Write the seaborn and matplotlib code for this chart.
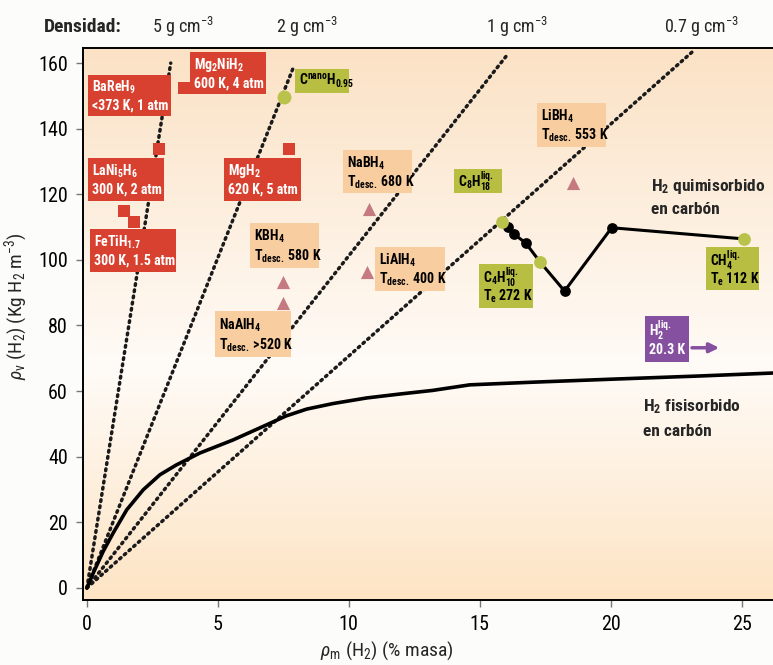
import numpy as np
import pandas as pd
import matplotlib
matplotlib.use('Agg')
import matplotlib.pyplot as plt
from matplotlib import font_manager
from matplotlib.patches import Rectangle
import seaborn as sns

# ---- datos ----
dens_labels = ['5', '2', '1', '0.7']
dens_end_x = [3.2, 7.9, 16.0, 23.2]
dens_end_y = [160, 159, 162, 164]

phys_x = [0, 0.24, 0.62, 1.0, 1.52, 2.15, 2.79, 3.42, 4.31, 5.58, 6.86, 7.6, 8.39,
          9.4, 10.68, 11.95, 13.2, 14.62, 17.0, 19.96, 23.4, 26.18]
phys_y = [0, 4.5, 11.1, 16.7, 23.8, 29.9, 34.5, 37.5, 41.1, 45.1, 49.7, 52.4, 54.5,
          56.2, 57.9, 59.1, 60.2, 61.9, 62.7, 63.6, 64.6, 65.5]

chem_x = [15.84, 16.07, 16.3, 16.75, 17.3, 18.24, 20.04, 25.08]
chem_y = [111.6, 110.0, 107.9, 105.2, 99.4, 90.5, 109.8, 106.4]
chem_kind = ['liq', 'c', 'c', 'c', 'liq', 'c', 'c', 'liq']

hyd_names = ['Mg2NiH2', 'BaReH9', 'LaNi5H6', 'FeTiH1.7', 'MgH2']
hyd_x = [3.7, 2.75, 1.41, 1.8, 7.7]
hyd_y = [152.4, 133.8, 114.9, 111.6, 133.8]

cplx_names = ['KBH4', 'NaAlH4', 'NaBH4', 'LiAlH4', 'LiBH4']
cplx_x = [7.47, 7.47, 10.76, 10.7, 18.55]
cplx_y = [93.3, 86.9, 115.5, 96.3, 123.5]

cnano_x = [7.52]
cnano_y = [149.7]

h2liq_y = 73.2
h2liq_x = [23.0, 24.25]

# ---- estilo ----
sns.set_theme(style='ticks')
names = {f.name for f in font_manager.fontManager.ttflist}
fam = None
for cand in ['Liberation Sans Narrow', 'Arial Narrow', 'Roboto Condensed', 'Open Sans Condensed']:
    if cand in names:
        fam = cand
        break
narrow = fam is not None
if fam is None:
    fam = 'Liberation Sans'
k = 1.0 if narrow else 0.86   # reduce tamanos si no hay fuente estrecha
plt.rcParams['font.family'] = [fam, 'DejaVu Sans']
plt.rcParams['mathtext.fontset'] = 'custom'
plt.rcParams['mathtext.rm'] = fam
plt.rcParams['mathtext.it'] = fam + ':italic'
plt.rcParams['mathtext.bf'] = fam + ':bold'

RED = '#d8412f'
PEACH = '#f8cd9f'
GREEN = '#b7be42'
GDOT = '#b9c24a'
PURPLE = '#8650a0'
TRI = '#c47a80'

fig = plt.figure(figsize=(7.73, 6.65), dpi=100, facecolor='#fcfcfa')
ax = fig.add_axes([83 / 773, 1 - 600 / 665, 690 / 773, 552 / 665])

# fondo degradado
stops = [0.0, 0.42, 1.0]
c_bot = (253, 228, 196)
c_mid = (255, 251, 247)
c_top = (251, 226, 197)
t = np.linspace(0, 1, 256)
grad = np.stack([np.interp(t, stops, [c_bot[i], c_mid[i], c_top[i]]) for i in range(3)], axis=-1) / 255
ax.imshow(grad[:, None, :], extent=[0, 1, 0, 1], transform=ax.transAxes,
          origin='lower', aspect='auto', zorder=0)

# lineas de densidad
for xe, ye in zip(dens_end_x, dens_end_y):
    ax.plot([0, xe], [0, ye], color='#1a1a1a', lw=2.5, linestyle=(0, (0.5, 1.3)),
            dash_capstyle='round', zorder=2)

# fisisorcion
sns.lineplot(x=phys_x, y=phys_y, ax=ax, color='black', lw=2.6, sort=False, zorder=3)

# quimisorcion
chem = pd.DataFrame({'x': chem_x, 'y': chem_y, 'kind': chem_kind})
sns.lineplot(data=chem, x='x', y='y', ax=ax, color='black', lw=2.2, sort=False, zorder=3)
sns.scatterplot(data=chem[chem.kind == 'c'], x='x', y='y', ax=ax, color='black',
                s=60, linewidth=0, zorder=4, legend=False)
sns.scatterplot(data=chem[chem.kind == 'liq'], x='x', y='y', ax=ax, color=GDOT,
                s=85, linewidth=0, zorder=4, legend=False)

sns.scatterplot(x=cnano_x, y=cnano_y, ax=ax, color=GDOT, s=100, linewidth=0, zorder=4)
sns.scatterplot(x=hyd_x, y=hyd_y, ax=ax, color=RED, marker='s', s=65, linewidth=0, zorder=4)
sns.scatterplot(x=cplx_x, y=cplx_y, ax=ax, color=TRI, marker='^', s=90, linewidth=0, zorder=4)

ax.annotate('', xy=(h2liq_x[1], h2liq_y), xytext=(h2liq_x[0], h2liq_y),
            arrowprops=dict(arrowstyle='-|>', color=PURPLE, lw=2.5, mutation_scale=14),
            zorder=5)

ax.set_xlim(-0.15, 26.2)
ax.set_ylim(-3.7, 164.6)
ax.set_xticks([0, 5, 10, 15, 20, 25])
ax.set_yticks(range(0, 161, 20))
ax.tick_params(direction='out', length=5, width=1, color='#777777', labelsize=14.5 * k,
               labelcolor='black', pad=6)
for s in ['left', 'bottom', 'top']:
    ax.spines[s].set_color('black')
    ax.spines[s].set_linewidth(1.4)
ax.spines['right'].set_visible(False)

ax.set_xlabel(r'$\rho_\mathregular{m}$ (H$_\mathregular{2}$) (% masa)', fontsize=14 * k)
ax.set_ylabel(r'$\rho_\mathregular{v}$ (H$_\mathregular{2}$) (Kg H$_\mathregular{2}$ m$^\mathregular{-3}$)',
              fontsize=14 * k)
ax.xaxis.set_label_coords((387 - 83) / 690, -0.072)
ax.yaxis.set_label_coords(-(83 - 30) / 690, 0.533)


def fx(px):
    return px / 773


def fy(py):
    return 1 - py / 665


def box(x0, y0, x1, y1, color, lines, tc):
    ax.add_patch(Rectangle((fx(x0), fy(y1)), fx(x1) - fx(x0), fy(y0) - fy(y1),
                           transform=fig.transFigure, facecolor=color, edgecolor='none',
                           zorder=6, clip_on=False))
    h = y1 - y0
    if len(lines) == 1:
        ys = [y0 + h * 0.5]
    else:
        ys = [y0 + h * 0.3, y0 + h * 0.74]
    for txt, yy in zip(lines, ys):
        fig.text(fx(x0 + 4), fy(yy), txt, color=tc, fontsize=10 * k,
                 fontweight='bold', ha='left', va='center', zorder=7)


sub = lambda s: r'$_\mathregular{' + s + '}$'
sup = lambda s: r'$^\mathregular{' + s + '}$'
td = 'T' + sub('desc.')

box(88, 75, 171, 116, RED, ['BaReH' + sub('9'), '<373 K, 1 atm'], 'white')
box(190, 52, 266, 94, RED, ['Mg' + sub('2') + 'NiH' + sub('2'), '600 K, 4 atm'], 'white')
box(88, 158, 164, 201, RED, ['LaNi' + sub('5') + 'H' + sub('6'), '300 K, 2 atm'], 'white')
box(90, 229, 176, 272, RED, ['FeTiH' + sub('1.7'), '300 K, 1.5 atm'], 'white')
box(224, 158, 301, 201, RED, ['MgH' + sub('2'), '620 K, 5 atm'], 'white')
box(295, 69, 349, 93, GREEN, ['C' + sup('nano') + 'H' + sub('0.95')], 'black')
box(343, 150, 412, 193, PEACH, ['NaBH' + sub('4'), td + ' 680 K'], 'black')
box(250, 223, 319, 268, PEACH, ['KBH' + sub('4'), td + ' 580 K'], 'black')
box(215, 311, 291, 357, PEACH, ['NaAlH' + sub('4'), td + ' >520 K'], 'black')
box(375, 247, 445, 291, PEACH, ['LiAlH' + sub('4'), td + ' 400 K'], 'black')
box(537, 103, 606, 147, PEACH, ['LiBH' + sub('4'), td + ' 553 K'], 'black')
box(454, 169, 502, 193, GREEN, ['C' + sub('8') + 'H' + r'$_\mathregular{18}^\mathregular{liq.}$'], 'black')
box(479, 264, 533, 308, GREEN, ['C' + sub('4') + 'H' + r'$_\mathregular{10}^\mathregular{liq.}$',
                                'T' + sub('e') + ' 272 K'], 'black')
box(706, 247, 759, 290, GREEN, ['CH' + r'$_\mathregular{4}^\mathregular{liq.}$',
                                'T' + sub('e') + ' 112 K'], 'black')
box(645, 316, 689, 362, PURPLE, ['H' + r'$_\mathregular{2}^\mathregular{liq.}$', '20.3 K'], 'white')

fs_note = 12.5 * k
fig.text(fx(651), fy(187), 'H' + sub('2') + ' quimisorbido', fontsize=fs_note, fontweight='bold', va='center')
fig.text(fx(651), fy(210), 'en carbón', fontsize=fs_note, fontweight='bold', va='center')
fig.text(fx(643), fy(407), 'H' + sub('2') + ' fisisorbido', fontsize=fs_note, fontweight='bold', va='center')
fig.text(fx(643), fy(431), 'en carbón', fontsize=fs_note, fontweight='bold', va='center')

# cabecera de densidades
fig.text(fx(44), fy(27), 'Densidad:', fontsize=14 * k, fontweight='bold', va='center')
for lab, cx in zip(dens_labels, [183, 307, 517, 702]):
    fig.text(fx(cx), fy(27), lab + ' g cm' + sup('-3'), fontsize=13 * k, ha='center', va='center')

fig.savefig('out.png', dpi=100, facecolor=fig.get_facecolor())
